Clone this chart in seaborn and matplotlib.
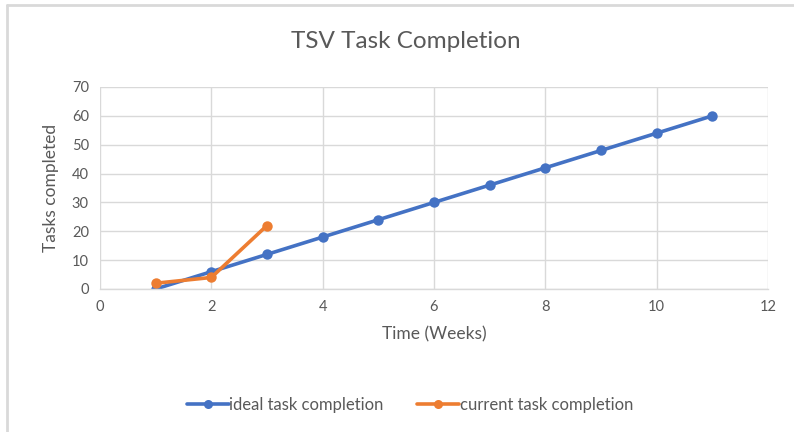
import matplotlib
matplotlib.use("Agg")
import matplotlib.pyplot as plt
import seaborn as sns
import pandas as pd
from matplotlib.lines import Line2D

weeks_ideal = [1, 2, 3, 4, 5, 6, 7, 8, 9, 10, 11]
ideal_tasks = [0, 6, 12, 18, 24, 30, 36, 42, 48, 54, 60]
weeks_current = [1, 2, 3]
current_tasks = [2, 4, 22]
x_ticks = [0, 2, 4, 6, 8, 10, 12]
y_ticks = [0, 10, 20, 30, 40, 50, 60, 70]

sns.set_theme(style="white")
plt.rcParams['font.family'] = ['Lato', 'DejaVu Sans']

df = pd.concat([
    pd.DataFrame({"Week": weeks_ideal, "Tasks": ideal_tasks, "Series": "ideal task completion"}),
    pd.DataFrame({"Week": weeks_current, "Tasks": current_tasks, "Series": "current task completion"}),
])

blue = "#4472C4"
orange = "#ED7D31"
txt = "#595959"
grid = "#D9D9D9"

fig = plt.figure(figsize=(7.94, 4.32), dpi=100)
ax = fig.add_axes([100/794, 1-289/432, 668/794, 202/432])

sns.lineplot(data=df, x="Week", y="Tasks", hue="Series",
             palette={"ideal task completion": blue, "current task completion": orange},
             marker="o", markersize=7.5, markeredgewidth=0, linewidth=2.6,
             sort=False, ax=ax, legend=False)

ax.set_xlim(0, 12)
ax.set_ylim(0, 70)
ax.set_xticks(x_ticks)
ax.set_yticks(y_ticks)
ax.grid(True, color=grid, linewidth=1)
ax.set_axisbelow(True)
for s in ["top", "right", "left"]:
    ax.spines[s].set_visible(False)
ax.spines["bottom"].set_color(grid)
ax.spines["bottom"].set_linewidth(1)
ax.tick_params(axis="both", length=0, labelsize=10.5, colors=txt, pad=8)
ax.set_xlabel("Time (Weeks)", fontsize=12.5, color=txt, labelpad=9)
ax.set_ylabel("Tasks completed", fontsize=12.5, color=txt, labelpad=9)

fig.text(406/794, 1-42/432, "TSV Task Completion", ha="center", va="center",
         fontsize=17.5, color=txt)

handles = [
    Line2D([0], [0], color=blue, lw=2.6, marker="o", markersize=6.5, markeredgewidth=0),
    Line2D([0], [0], color=orange, lw=2.6, marker="o", markersize=6.5, markeredgewidth=0),
]
fig.legend(handles, ["ideal task completion", "current task completion"],
           loc="center", bbox_to_anchor=(410/794, 1-405/432), ncol=2, frameon=False,
           fontsize=12, labelcolor=txt, handlelength=2.5, handletextpad=0.05,
           columnspacing=2.0)

fig.add_artist(Line2D([7/794, 1], [1-5/432, 1-5/432], color="#D9D9D9", lw=2,
                      transform=fig.transFigure))
fig.add_artist(Line2D([7/794, 7/794], [0, 1-5/432], color="#D9D9D9", lw=2,
                      transform=fig.transFigure))

fig.savefig("out.png", dpi=100, facecolor="white")
